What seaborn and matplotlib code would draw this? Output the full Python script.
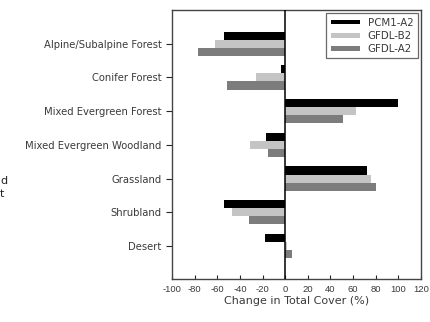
import pandas as pd
import seaborn as sns
import matplotlib.pyplot as plt

# Data
categories = ['Alpine/Subalpine Forest', 'Conifer Forest', 'Mixed Evergreen Forest',
              'Mixed Evergreen Woodland', 'Grassland', 'Shrubland', 'Desert']
pcm1_a2 = [-54, -4, 100, -17, 72, -54, -18]
gfdl_b2 = [-62, -26, 63, -31, 76, -47, 2]
gfdl_a2 = [-77, -51, 51, -15, 80, -32, 6]
models = ['PCM1-A2', 'GFDL-B2', 'GFDL-A2']
colors = ['#000000', '#c4c4c4', '#7c7c7c']
x_ticks = list(range(-100, 121, 20))

df = pd.DataFrame({
    'cover': categories * 3,
    'change': pcm1_a2 + gfdl_b2 + gfdl_a2,
    'model': [m for m in models for _ in categories],
})

sns.set_style('ticks')
plt.rcParams['font.family'] = ['DejaVu Sans']
plt.rcParams['axes.unicode_minus'] = False

fig = plt.figure(figsize=(4.3, 3.22), dpi=100)
ax = fig.add_axes([172 / 430, 1 - 279 / 322, 249 / 430, 269 / 322])

sns.barplot(data=df, y='cover', x='change', hue='model', orient='h',
            palette=colors, width=0.72, saturation=1, ax=ax, linewidth=0)

ax.axvline(0, color='black', linewidth=1.1, zorder=5)
ax.set_xlim(-100, 120)
ax.set_ylim(6.98, -1.0)
ax.set_xticks(x_ticks)
ax.set_xticklabels([str(t) for t in x_ticks], fontsize=6.8, color='#3a3a3a',
                   family='Liberation Sans')
ax.tick_params(axis='y', labelsize=7.2, labelcolor='#3a3a3a', length=4, width=0.8)
ax.tick_params(axis='x', direction='in', length=3, width=0.8, pad=4)
ax.set_ylabel('')
ax.set_xlabel('Change in Total Cover (%)', fontsize=8, color='#3a3a3a', labelpad=2)
for s in ax.spines.values():
    s.set_visible(True)
    s.set_linewidth(1.0)
    s.set_color('#444444')

leg = ax.legend(loc='upper right', fontsize=7.4, frameon=True, fancybox=False,
                edgecolor='#444444', borderpad=0.45, handlelength=2.9,
                handleheight=0.35, labelspacing=0.3, borderaxespad=0.3,
                handletextpad=0.7)
leg.get_frame().set_linewidth(0.9)
for t in leg.get_texts():
    t.set_color('#3a3a3a')

# cut-off text fragments on the left edge of the reference
fig.text(0.0, 1 - 181 / 322, 'd', fontsize=8, va='center', ha='left', color='#222222')
fig.text(0.0, 1 - 194 / 322, 't', fontsize=8, va='center', ha='left', color='#222222')

fig.savefig('out.png', dpi=100)
